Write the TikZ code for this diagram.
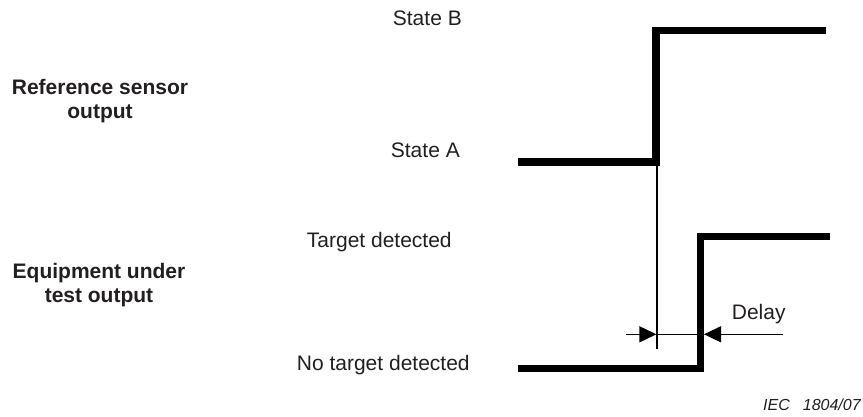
\documentclass[tikz,border=0pt]{standalone}
\usepackage{fontspec}
\setmainfont{Liberation Sans}
\usetikzlibrary{arrows.meta}
\definecolor{txt}{HTML}{231F20}
\tikzset{
  lbl/.style={anchor=base west, inner sep=0pt, text=txt, font=\fontsize{21}{24}\selectfont},
  head/.style={align=center, inner sep=0pt, text=txt, font=\fontsize{21}{24}\selectfont\bfseries},
  sig/.style={line width=7.2pt, line join=miter, line cap=butt},
  thin/.style={line width=1.2pt},
  dtip/.style={-{Triangle[length=17pt,width=16pt]}, line width=1.2pt}
}
\begin{document}
\begin{tikzpicture}[x=1pt,y=-1pt]
\useasboundingbox (0,0) rectangle (863,416);
% labels
\node[head] (ref) at (100,101) {Reference sensor\\output};
\node[head] (eut) at (99,285) {Equipment under\\test output};
\node[lbl] (sb) at (392.7,25) {State B};
\node[lbl] (sa) at (390.7,157.5) {State A};
\node[lbl] (td) at (306.7,247.7) {Target detected};
\node[lbl] (ntd) at (296.7,370.7) {No target detected};
\node[lbl] (dl) at (731.7,319.3) {Delay};
\node[lbl, font=\fontsize{16}{19}\selectfont\itshape] (iec) at (763,410) {IEC\hspace{13pt}1804/07};
% reference sensor signal
\coordinate (a1) at (518,162);
\coordinate (a2) at (656,162);
\coordinate (a3) at (656,30.5);
\coordinate (a4) at (826,30.5);
\draw[sig] (a1) -- (a2) -- (a3) -- (a4);
% equipment signal
\coordinate (b1) at (518,368.7);
\coordinate (b2) at (700.3,368.7);
\coordinate (b3) at (700.3,236.7);
\coordinate (b4) at (830,236.7);
\draw[sig] (b1) -- (b2) -- (b3) -- (b4);
% reference line
\coordinate (r1) at (657,162);
\coordinate (r2) at (657,349);
\draw[thin] (r1) -- (r2);
% delay arrows
\coordinate (d1) at (626,334.3);
\coordinate (d2) at (656.4,334.3);
\coordinate (d3) at (704,334.3);
\coordinate (d4) at (783.3,334.3);
\draw[thin] (d2) -- (d3);
\draw[dtip] (d1) -- (d2);
\draw[dtip] (d4) -- (d3);
\end{tikzpicture}
\end{document}
